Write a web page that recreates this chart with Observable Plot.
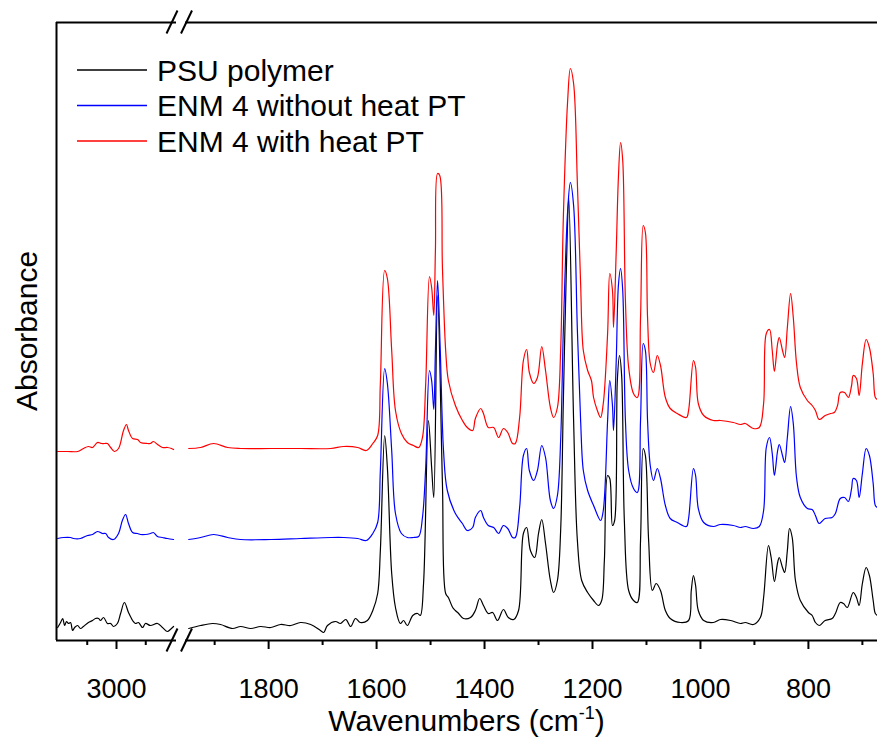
<!DOCTYPE html>
<html><head><meta charset="utf-8">
<script src="https://cdn.jsdelivr.net/npm/d3@7"></script>
<script src="https://cdn.jsdelivr.net/npm/@observablehq/plot@0.6"></script>
<style>
html,body{margin:0;padding:0;background:#fff;}
#wrap{position:relative;width:877px;height:740px;overflow:hidden;}
#wrap svg{position:absolute;top:0;}
</style></head><body><div id="wrap"></div>
<script>
const seriesNames = ["PSU polymer", "ENM 4 without heat PT", "ENM 4 with heat PT"];
const seriesColors = ["#000000", "#0000ff", "#ff0000"];

// [wavenumber (cm-1), absorbance (a.u., stacked as plotted)]
const psuSpectrum = [
[3201,0.13],[3191,0.18],[3184,0.22],[3177,0.15],[3171,0.19],[3164,0.17],[3157,0.18],[3150,0.10],[3143,0.13],[3133,0.15],[3123,0.12],[3113,0.14],[3096,0.18],[3082,0.20],[3072,0.22],[3061,0.22],[3055,0.20],[3044,0.23],[3031,0.17],[3020,0.17],[3010,0.14],[2997,0.17],[2986,0.27],[2973,0.38],[2959,0.28],[2945,0.20],[2935,0.17],[2925,0.18],[2911,0.13],[2901,0.17],[2884,0.15],[2860,0.17],[2843,0.13],[2826,0.09],[2816,0.11],[2805,0.14],
[1948,0.12],[1926,0.15],[1904,0.17],[1889,0.16],[1867,0.12],[1852,0.14],[1833,0.12],[1815,0.14],[1796,0.13],[1778,0.16],[1759,0.15],[1741,0.18],[1722,0.16],[1704,0.10],[1698,0.08],[1691,0.15],[1676,0.19],[1667,0.17],[1657,0.21],[1648,0.14],[1639,0.22],[1630,0.18],[1617,0.20],[1607,0.30],[1598,0.47],[1593,0.90],[1585,2.05],[1580,1.73],[1572,0.67],[1565,0.33],[1556,0.17],[1550,0.20],[1543,0.15],[1533,0.25],[1524,0.27],[1519,0.25],[1513,0.57],[1504,2.20],[1498,1.73],[1494,1.43],[1487,3.45],[1478,1.57],[1472,0.47],[1467,0.43],[1459,0.33],[1454,0.30],[1448,0.27],[1439,0.22],[1426,0.23],[1417,0.30],[1409,0.42],[1402,0.35],[1393,0.27],[1385,0.28],[1376,0.20],[1365,0.31],[1356,0.23],[1346,0.21],[1337,0.30],[1328,1.07],[1322,1.13],[1315,0.90],[1307,0.83],[1300,1.07],[1294,1.21],[1287,0.97],[1278,0.60],[1272,0.48],[1265,0.60],[1259,1.10],[1254,2.40],[1248,3.80],[1244,4.43],[1235,2.20],[1228,1.00],[1220,0.60],[1209,0.48],[1198,0.40],[1189,0.35],[1183,0.40],[1178,0.80],[1172,1.65],[1168,1.62],[1163,1.15],[1159,1.20],[1154,2.60],[1150,2.85],[1146,2.65],[1141,1.20],[1133,0.50],[1124,0.40],[1117,0.38],[1111,1.00],[1106,1.92],[1102,1.85],[1096,1.00],[1089,0.50],[1082,0.57],[1074,0.50],[1065,0.30],[1056,0.22],[1037,0.18],[1022,0.20],[1017,0.50],[1013,0.65],[1009,0.55],[1004,0.30],[994,0.20],[976,0.18],[963,0.21],[944,0.20],[926,0.17],[917,0.18],[902,0.16],[889,0.23],[883,0.43],[874,0.95],[869,0.83],[863,0.59],[857,0.78],[854,0.83],[848,0.73],[844,0.68],[839,0.90],[835,1.12],[830,1.03],[824,0.60],[815,0.40],[800,0.28],[793,0.25],[787,0.18],[780,0.15],[769,0.20],[756,0.22],[750,0.27],[741,0.38],[735,0.37],[728,0.33],[717,0.48],[711,0.43],[706,0.35],[700,0.57],[693,0.73],[687,0.65],[680,0.40],[676,0.27],[672,0.25]
];

const noHeatSpectrum = [
[3201,1.02],[3181,1.03],[3157,1.03],[3147,1.02],[3123,1.02],[3099,1.05],[3082,1.06],[3065,1.09],[3048,1.07],[3037,1.07],[3027,1.03],[3010,1.01],[2993,1.07],[2980,1.20],[2969,1.26],[2959,1.17],[2945,1.08],[2928,1.07],[2918,1.06],[2901,1.06],[2884,1.07],[2874,1.08],[2860,1.04],[2843,1.03],[2826,1.02],[2805,1.01],
[1948,1.01],[1926,1.03],[1902,1.06],[1876,1.03],[1852,1.01],[1796,1.01],[1741,1.02],[1685,1.03],[1661,1.03],[1635,1.02],[1619,1.00],[1607,1.07],[1598,1.18],[1593,1.70],[1585,2.72],[1580,2.57],[1572,1.90],[1565,1.27],[1554,1.07],[1543,1.03],[1532,1.03],[1522,1.04],[1515,1.23],[1509,1.73],[1502,2.70],[1498,2.60],[1494,2.31],[1491,2.90],[1487,3.60],[1482,2.90],[1476,1.90],[1469,1.50],[1454,1.27],[1441,1.17],[1432,1.10],[1422,1.13],[1417,1.23],[1407,1.30],[1402,1.23],[1393,1.15],[1383,1.13],[1374,1.07],[1365,1.15],[1357,1.12],[1348,1.03],[1343,1.03],[1335,1.33],[1328,1.85],[1322,1.92],[1317,1.70],[1309,1.60],[1302,1.70],[1294,1.95],[1287,1.83],[1278,1.40],[1272,1.32],[1265,1.45],[1259,2.00],[1254,3.10],[1246,4.30],[1241,4.58],[1235,4.35],[1228,3.10],[1222,2.20],[1217,1.70],[1209,1.50],[1198,1.35],[1185,1.20],[1180,1.30],[1172,2.20],[1168,2.60],[1163,2.35],[1161,2.10],[1156,2.80],[1152,3.55],[1148,3.72],[1144,3.50],[1139,2.20],[1133,1.70],[1124,1.52],[1117,1.48],[1111,2.20],[1106,2.97],[1102,2.90],[1098,2.20],[1093,1.75],[1087,1.60],[1080,1.72],[1074,1.62],[1065,1.35],[1056,1.22],[1043,1.18],[1026,1.14],[1022,1.22],[1013,1.72],[1009,1.65],[1004,1.32],[994,1.18],[976,1.14],[963,1.16],[939,1.15],[926,1.13],[917,1.14],[902,1.12],[891,1.14],[883,1.30],[878,1.93],[872,2.03],[867,1.87],[863,1.65],[857,1.90],[854,1.96],[848,1.85],[844,1.78],[839,2.03],[833,2.34],[828,2.17],[822,1.63],[815,1.43],[802,1.32],[793,1.31],[787,1.25],[780,1.17],[769,1.22],[756,1.23],[750,1.27],[741,1.42],[733,1.43],[726,1.39],[720,1.52],[717,1.62],[711,1.60],[706,1.43],[700,1.67],[693,1.92],[687,1.85],[680,1.57],[676,1.35],[672,1.33]
];

const heatSpectrum = [
[3201,1.89],[3167,1.89],[3133,1.89],[3113,1.92],[3096,1.94],[3082,1.93],[3065,1.98],[3051,1.97],[3041,1.97],[3031,1.97],[3020,1.93],[3007,1.89],[2993,1.92],[2976,2.10],[2966,2.16],[2959,2.10],[2945,2.02],[2928,2.01],[2918,1.98],[2894,1.97],[2884,1.97],[2874,1.99],[2860,1.96],[2843,1.93],[2826,1.93],[2812,1.92],[2805,1.91],
[1948,1.92],[1926,1.93],[1902,1.97],[1876,1.93],[1852,1.92],[1796,1.92],[1741,1.92],[1685,1.92],[1661,1.94],[1635,1.93],[1619,1.90],[1607,1.97],[1598,2.05],[1593,2.57],[1585,3.70],[1580,3.62],[1572,2.90],[1565,2.30],[1554,2.07],[1543,1.98],[1532,1.95],[1522,1.93],[1515,2.03],[1509,2.57],[1502,3.64],[1498,3.53],[1494,3.25],[1491,3.90],[1487,4.67],[1483,4.65],[1478,3.73],[1472,2.90],[1467,2.60],[1454,2.35],[1441,2.20],[1432,2.13],[1422,2.10],[1417,2.22],[1407,2.32],[1402,2.27],[1393,2.13],[1383,2.13],[1374,2.03],[1365,2.12],[1357,2.08],[1348,1.97],[1343,1.97],[1335,2.23],[1328,2.80],[1322,2.91],[1317,2.68],[1309,2.57],[1302,2.63],[1294,2.94],[1287,2.70],[1278,2.33],[1272,2.23],[1265,2.33],[1259,2.90],[1254,4.23],[1246,5.40],[1241,5.72],[1235,5.57],[1228,4.57],[1222,3.57],[1217,2.90],[1209,2.70],[1202,2.60],[1198,2.43],[1191,2.30],[1185,2.23],[1180,2.37],[1172,3.07],[1168,3.67],[1163,3.50],[1161,3.13],[1156,3.90],[1152,4.63],[1148,4.98],[1144,4.80],[1139,3.40],[1133,2.73],[1124,2.47],[1117,2.43],[1111,3.23],[1106,4.15],[1102,4.08],[1098,3.23],[1093,2.77],[1087,2.68],[1080,2.85],[1074,2.75],[1065,2.43],[1056,2.32],[1043,2.27],[1026,2.23],[1022,2.30],[1013,2.80],[1009,2.73],[1004,2.37],[994,2.25],[976,2.20],[963,2.20],[939,2.18],[926,2.16],[917,2.17],[902,2.12],[891,2.13],[883,2.37],[878,3.07],[872,3.11],[867,2.90],[863,2.69],[857,2.97],[854,3.03],[848,2.90],[844,2.83],[839,3.13],[833,3.47],[828,3.23],[822,2.77],[815,2.53],[802,2.40],[793,2.35],[787,2.30],[780,2.21],[769,2.25],[759,2.27],[752,2.28],[746,2.35],[741,2.48],[733,2.48],[726,2.43],[720,2.55],[717,2.65],[711,2.62],[706,2.45],[700,2.77],[693,3.01],[687,2.93],[680,2.67],[676,2.43],[672,2.41]
];

const majorTicks = [3000, 1800, 1600, 1400, 1200, 1000, 800];
const minorTicks = [3100, 2900, 1900, 1700, 1500, 1300, 1100, 900, 700];
// broken axis: high-wavenumber segment, then low-wavenumber segment
const xSegments = [[3205, 2795], [1954, 672]];
const yDomain = [0, 6.18];

const rows = [];
[psuSpectrum, noHeatSpectrum, heatSpectrum].forEach((s, i) =>
  s.forEach(([wn, a]) => rows.push({series: seriesNames[i], wn, a})));

const font = '"Liberation Sans", Arial, sans-serif';
const W = 877, H = 740, mT = 22, mB = 100;
const panels = [
  {domain: xSegments[0], left: 0, width: 176, marginLeft: 56},
  {domain: xSegments[1], left: 176, width: 701, marginLeft: 9}
];

const wrap = document.getElementById("wrap");
const charts = panels.map(p => {
  const [hi, lo] = p.domain;
  const data = rows.filter(d => d.wn <= hi && d.wn >= lo);
  const inDom = t => t <= hi && t >= lo;
  const marks = [
    Plot.line(data, {x: "wn", y: "a", z: "series", stroke: "series", strokeWidth: 1.2, curve: "catmull-rom"}),
    Plot.axisX({ticks: majorTicks.filter(inDom), tickSize: 9, tickPadding: 29, tickFormat: d => String(d), strokeWidth: 2, label: null}),
    Plot.axisX({ticks: minorTicks.filter(inDom), tickSize: 5, tickFormat: () => "", strokeWidth: 2, label: null}),
    Plot.ruleY([yDomain[0]], {strokeWidth: 2}),
    Plot.ruleY([yDomain[1]], {strokeWidth: 2})
  ];
  if (p.left === 0) marks.push(Plot.ruleX([hi], {strokeWidth: 2}));
  const c = Plot.plot({
    width: p.width, height: H,
    marginLeft: p.marginLeft, marginRight: 0, marginTop: mT, marginBottom: mB,
    style: {fontFamily: font, fontSize: "27px", color: "#000", background: "transparent", overflow: "visible"},
    x: {domain: p.domain, label: null},
    y: {domain: yDomain, axis: null},
    color: {domain: seriesNames, range: seriesColors},
    marks
  });
  c.style.left = p.left + "px";
  wrap.appendChild(c);
  return c;
});

// overlay for break marks, titles and legend
const ov = d3.select(wrap).append("svg").attr("width", W).attr("height", H)
  .style("left", "0px").attr("font-family", font);
const xA = charts[0].scale("x"), xB = charts[1].scale("x"), ys = charts[0].scale("y");
const bx = (panels[0].left + xA.apply(xSegments[0][1]) + panels[1].left + xB.apply(xSegments[1][0])) / 2;
const yBottom = ys.apply(yDomain[0]), yTop = ys.apply(yDomain[1]);
for (const yy of [yBottom, yTop]) {
  for (const cx of [bx - 8.5, bx + 6]) {
    ov.append("line").attr("x1", cx - 5.5).attr("y1", yy + 11.5).attr("x2", cx + 5.5).attr("y2", yy - 11.5)
      .attr("stroke", "#000").attr("stroke-width", 2);
  }
}

const xt = ov.append("text").attr("x", (56 + W) / 2).attr("y", 731).attr("text-anchor", "middle")
  .attr("font-size", 30).attr("fill", "#000");
xt.append("tspan").text("Wavenumbers (cm");
xt.append("tspan").attr("font-size", 18).attr("dy", -12).text("-1");
xt.append("tspan").attr("dy", 12).text(")");

ov.append("text").attr("transform", `translate(37,${(yTop + yBottom) / 2}) rotate(-90)`)
  .attr("text-anchor", "middle").attr("font-size", 30).attr("fill", "#000")
  .text("Absorbance");

seriesNames.forEach((name, i) => {
  const yy = 70 + i * 35.5;
  ov.append("line").attr("x1", 77).attr("x2", 147).attr("y1", yy).attr("y2", yy)
    .attr("stroke", seriesColors[i]).attr("stroke-width", 1.5);
  ov.append("text").attr("x", 157).attr("y", yy).attr("dy", "0.36em").attr("text-anchor", "start")
    .attr("font-size", 30).attr("fill", "#000").text(name);
});
</script>
</body></html>
